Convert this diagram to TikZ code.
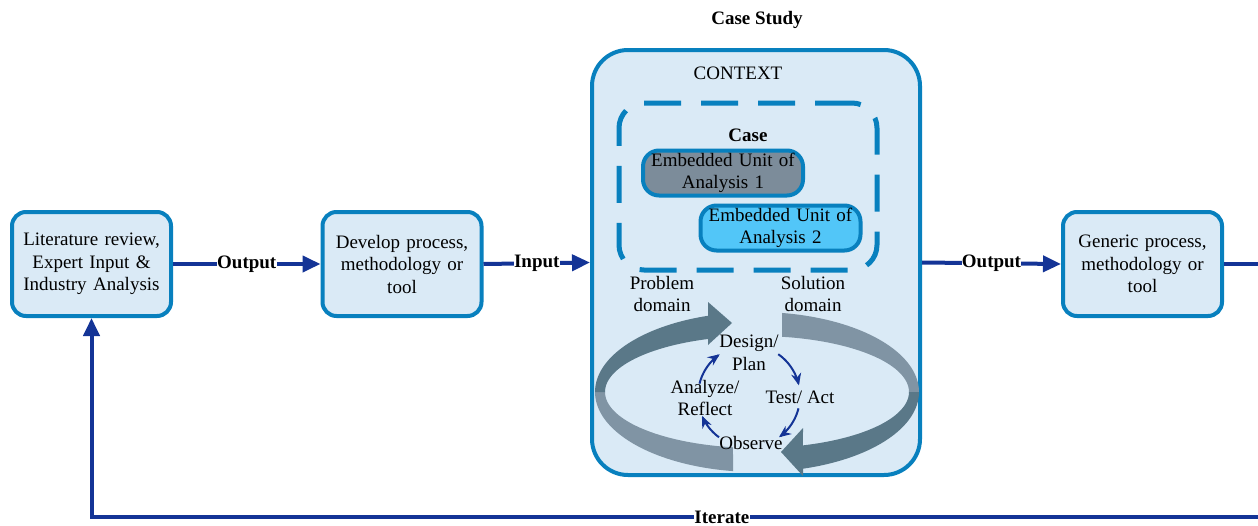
\documentclass[tikz,border=0pt]{standalone}
\usepackage{fontspec}
\setmainfont{Liberation Serif}
\usetikzlibrary{arrows.meta}

\definecolor{boxblue}{RGB}{8,128,190}
\definecolor{boxfill}{RGB}{218,234,246}
\definecolor{linkblue}{RGB}{20,52,150}
\definecolor{unitgray}{RGB}{124,140,154}
\definecolor{unitcyan}{RGB}{82,198,248}
\definecolor{ringdark}{RGB}{90,120,136}
\definecolor{ringlight}{RGB}{128,148,164}

\begin{document}
\begin{tikzpicture}[x=1pt,y=-1pt,
  font=\fontsize{19}{22.5}\selectfont,
  stepbox/.style={draw=boxblue, line width=4pt, fill=boxfill, rounded corners=14pt,
    minimum width=159pt, minimum height=104pt, text width=150pt, align=center, inner sep=0pt},
  unitbox/.style={draw=boxblue, line width=4pt, rounded corners=16pt,
    minimum width=160pt, minimum height=45pt, text width=158pt, align=center, inner sep=0pt},
  boldtxt/.style={font=\fontsize{19}{22.5}\selectfont\bfseries},
  flowlbl/.style={boldtxt, fill=white, inner sep=0.3pt},
  link/.style={draw=linkblue, line width=4pt, -{Triangle[length=18pt,width=16pt]}},
  cyc/.style={draw=linkblue, line width=2pt, -{Stealth[length=12pt,width=10pt]}}
]
\useasboundingbox (0,0) rectangle (1258,525);

% process steps
\node[stepbox] (lit) at (91.5,264) {Literature review,\\ Expert Input \&\\ Industry Analysis};
\node[stepbox] (dev) at (402,264) {Develop process,\\ methodology or\\ tool};
\node[stepbox] (gen) at (1142.5,264) {Generic process,\\ methodology or\\ tool};

% case study container
\node[boldtxt] (title) at (757,20) {Case Study};
\node[draw=boxblue, line width=4pt, fill=boxfill, rounded corners=36pt,
      minimum width=328pt, minimum height=425pt] (ctx) at (756,262.5) {};
\node (ctxlbl) at (738,73) {CONTEXT};

% the case with its embedded units
\node[draw=boxblue, line width=5pt, dash pattern=on 37pt off 20pt, rounded corners=25pt,
      minimum width=258pt, minimum height=167pt] (case) at (748,186.5) {};
\node[boldtxt] (caselbl) at (748,135) {Case};
\node[unitbox, fill=unitgray] (u1) at (723,173) {Embedded Unit of\\ Analysis 1};
\node[unitbox, fill=unitcyan] (u2) at (780.5,228) {Embedded Unit of\\ Analysis 2};

% problem / solution ring
\fill[ringlight] plot[domain=98.5:180, samples=40] ({757+162*cos(\x)},{392+80*sin(\x)})
  -- plot[domain=180:99.1, samples=40] ({757+152*cos(\x)},{392+56*sin(\x)}) -- cycle;
\fill[ringdark] plot[domain=180:252.4, samples=40] ({757+162*cos(\x)},{392+80*sin(\x)})
  -- (708,302) -- (732,323) -- (708,345)
  -- plot[domain=251.2:180, samples=40] ({757+152*cos(\x)},{392+56*sin(\x)}) -- cycle;
\fill[ringlight] plot[domain=-81.1:0, samples=40] ({757+162*cos(\x)},{392+80*sin(\x)})
  -- plot[domain=0:-80.5, samples=40] ({757+152*cos(\x)},{392+56*sin(\x)}) -- cycle;
\fill[ringdark] plot[domain=0:73.5, samples=40] ({757+162*cos(\x)},{392+80*sin(\x)})
  -- (803,476) -- (781,452) -- (803,428)
  -- plot[domain=72.4:0, samples=40] ({757+152*cos(\x)},{392+56*sin(\x)}) -- cycle;

\node[align=center] (prob) at (662,294) {Problem\\ domain};
\node[align=center] (sol) at (813,294) {Solution\\ domain};

% inner cycle
\draw[cyc] plot[domain=-55:-12, samples=20] ({749+51*cos(\x)},{396+51*sin(\x)});
\draw[cyc] plot[domain=14:54, samples=20] ({749+51*cos(\x)},{396+51*sin(\x)});
\draw[cyc] plot[domain=126:157, samples=20] ({749+51*cos(\x)},{396+51*sin(\x)});
\draw[cyc] plot[domain=194:235, samples=20] ({749+51*cos(\x)},{396+51*sin(\x)});

\node[align=center] (design) at (749,353) {Design/\\Plan};
\node (test) at (800,397) {Test/ Act};
\node (observe) at (751,443) {Observe};
\node[align=center] (analyze) at (705,398) {Analyze/\\Reflect};

% flow between the steps
\draw[link] (lit.east) -- node[flowlbl]{Output} (dev.west);
\draw[link] (dev.east) -- node[flowlbl]{Input} (ctx.west);
\draw[link] (ctx.east) -- node[flowlbl]{Output} (gen.west);
\coordinate (exitR) at (1290,264);
\coordinate (retR) at (1290,517);
\draw[link] (gen.east) -- (exitR) -- (retR) -| node[flowlbl, pos=0.237]{Iterate} (lit.south);
\end{tikzpicture}
\end{document}
